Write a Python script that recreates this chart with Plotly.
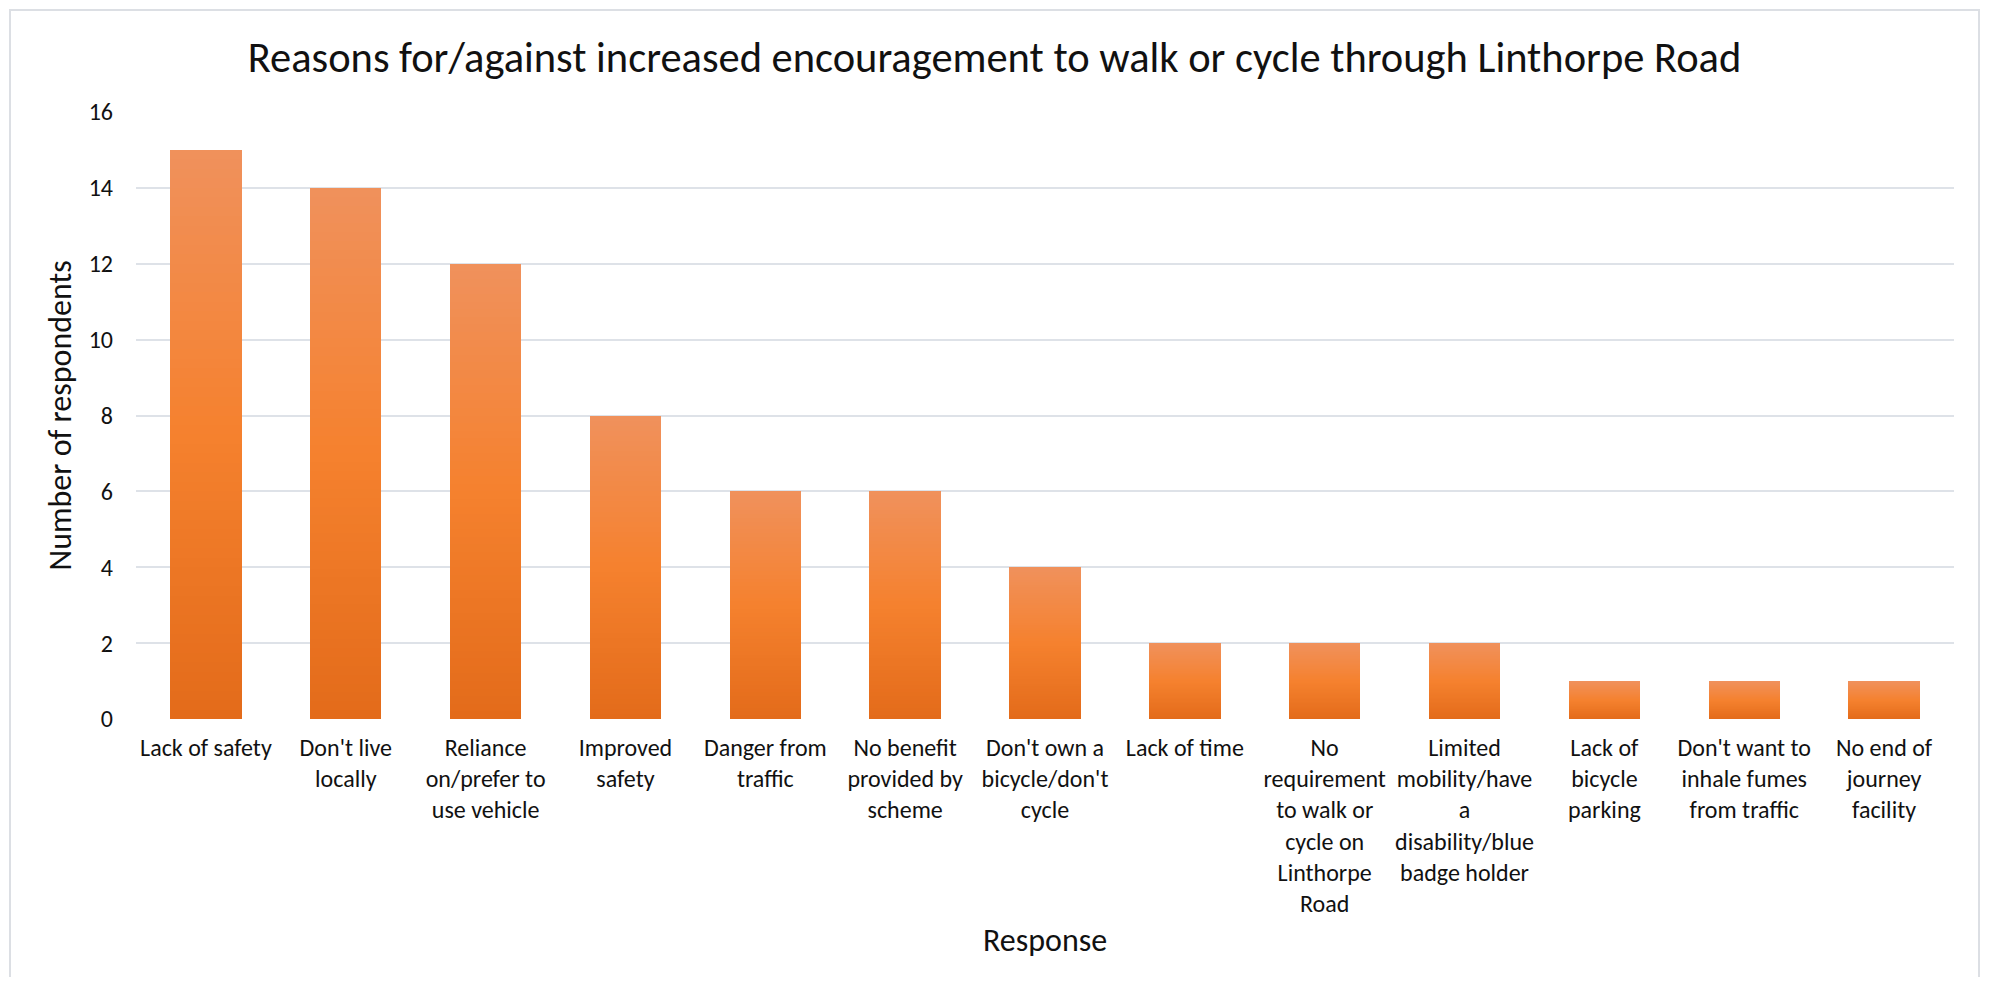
"""bar chart: reasons for/against walking or cycling through Linthorpe Road"""
import plotly.graph_objects as go
from plotly.colors import sample_colorscale

RESPONSES = ['Lack of safety', "Don't live<br>locally", 'Reliance<br>on/prefer to<br>use vehicle',
             'Improved<br>safety', 'Danger from<br>traffic', 'No benefit<br>provided by<br>scheme',
             "Don't own a<br>bicycle/don't<br>cycle", 'Lack of time',
             'No<br>requirement<br>to walk or<br>cycle on<br>Linthorpe<br>Road',
             'Limited<br>mobility/have<br>a<br>disability/blue<br>badge holder',
             'Lack of<br>bicycle<br>parking', "Don't want to<br>inhale fumes<br>from traffic",
             'No end of<br>journey<br>facility']

RESPONDENTS = [15, 14, 12, 8, 6, 6, 4, 2, 2, 2, 1, 1, 1]

Y_TICKS = [0, 2, 4, 6, 8, 10, 12, 14, 16]

TITLE = 'Reasons for/against increased encouragement to walk or cycle through Linthorpe Road'

FONT = 'Carlito, Calibri, Lato, sans-serif'
W, H = 1989, 985
OFF = 8  # the page body margin pushes the figure in by 8px
FW, FH = W - 2 * OFF, H - 2 * OFF
# plot area in page pixels
L, R, T, B = 136, 1954, 112, 719

# excel style vertical gradient, dark at the bottom, light at the top
GRADIENT = [[0.0, '#E36B1A'], [0.5, '#F5812E'], [1.0, '#F0915C']]
N_STEPS = 60

fig = go.Figure()

# each bar is split into thin stacked slices to fake the gradient fill
for k in range(N_STEPS):
    color = sample_colorscale(GRADIENT, (k + 0.5) / N_STEPS)[0]
    fig.add_trace(go.Bar(
        x=RESPONSES,
        y=[v / N_STEPS for v in RESPONDENTS],
        marker=dict(color=color, line=dict(width=0)),
        showlegend=False,
        hoverinfo='skip',
    ))

pw = R - L
ph = B - T

fig.update_layout(
    width=FW, height=FH,
    barmode='stack', bargap=0.49,
    paper_bgcolor='white', plot_bgcolor='white',
    margin=dict(l=L - OFF, r=FW - (R - OFF), t=T - OFF, b=FH - (B - OFF), autoexpand=False),
    font=dict(family=FONT, size=24, color='#111111'),
    title=dict(text=TITLE, font=dict(family=FONT, size=42.5, color='#111111'),
               x=0.5, xref='container', xanchor='center',
               y=1 - (57 - OFF) / FH, yref='container', yanchor='middle'),
    xaxis=dict(
        tickangle=0, ticks='', ticklabelstandoff=12,
        showgrid=False, showline=False, zeroline=False,
        tickfont=dict(size=24),
    ),
    yaxis=dict(
        range=[0, 16], tickvals=Y_TICKS, ticks='', ticklabelstandoff=22,
        showgrid=True, gridcolor='#DEE2E8', gridwidth=2,
        zeroline=False, showline=False,
        tickfont=dict(size=24),
    ),
    # light frame round the whole chart (kept inside the figure so it is not clipped)
    shapes=[dict(
        type='rect', xref='paper', yref='paper',
        x0=(OFF + 2 - L) / pw, x1=(W - OFF - 2 - L) / pw,
        y0=(B - 1000) / ph, y1=(B - OFF - 2) / ph,
        line=dict(color='#DCDFE4', width=2), fillcolor='rgba(0,0,0,0)', layer='below',
    )],
    annotations=[
        dict(text='Number of respondents', textangle=-90, showarrow=False,
             xref='paper', yref='paper', x=(60 - L) / pw, y=0.5,
             xanchor='center', yanchor='middle', font=dict(size=32)),
        dict(text='Response', showarrow=False,
             xref='paper', yref='paper', x=0.5, y=(B - 940) / ph,
             xanchor='center', yanchor='middle', font=dict(size=32)),
    ],
)

fig.write_html('out.html')
